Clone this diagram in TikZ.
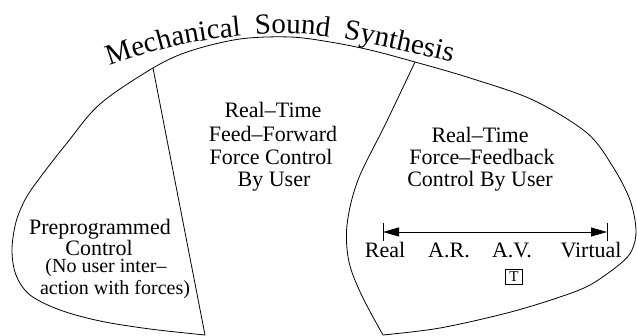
\documentclass[tikz,border=0pt]{standalone}
\usepackage{fontspec}
\setmainfont{Liberation Serif}
\usetikzlibrary{arrows.meta,decorations.text}
\begin{document}
\begin{tikzpicture}[x=1pt,y=-1pt, line width=0.8pt,
  lbl/.style={font=\fontsize{22}{22}\selectfont, anchor=base, inner sep=0pt},
  sml/.style={font=\fontsize{20}{20}\selectfont, anchor=base, inner sep=0pt},
  ahead/.style={Triangle[length=16pt,width=9pt]}]
\useasboundingbox (0,0) rectangle (637,336);
% outer outline
\draw plot[smooth, tension=0.55] coordinates {(205,335) (150,329) (100,321) (60,310) (30,295) (16,275) (12,250) (16,222) (26,198) (42,175) (67,143) (100,104) (153,68) (190,51) (240,39) (290,37) (330,42) (370,50) (415,62) (470,78) (533,100) (587,133) (613,167) (630,200) (636,230) (632,250) (620,264) (590,285) (557,298) (507,313) (440,328) (383,335)};
% left divider
\coordinate (d1t) at (153,68);
\coordinate (d1b) at (205,335);
\draw (d1t) -- (d1b);
% right blob left boundary
\draw plot[smooth, tension=0.55] coordinates {(415,62) (386,123) (358,180) (347,225) (349,262) (362,296) (383,335)};
% title
\path[decorate, decoration={text along path, text align=fit to path stretching spaces,
  text={|\fontsize{29}{29}\selectfont|Mechanical Sound Synthesis}}]
  plot[smooth, tension=0.6] coordinates {(110,66) (175,46) (242,36) (300,34) (360,42) (452,62)};
% middle block
\node[lbl] (m1) at (273,118) {Real–Time};
\node[lbl] (m2) at (273,142) {Feed–Forward};
\node[lbl] (m3) at (271,165) {Force Control};
\node[lbl] (m4) at (274,187) {By User};
% right block
\node[lbl] (r1) at (480,143) {Real–Time};
\node[lbl] (r2) at (482,165) {Force–Feedback};
\node[lbl] (r3) at (480,187) {Control By User};
% left block
\node[lbl] (l1) at (100,235) {Preprogrammed};
\node[lbl] (l2) at (99,256) {Control};
\node[sml] (l3) at (106,273) {(No user inter–};
\node[sml] (l4) at (115,295) {action with forces)};
% scale
\coordinate (aL) at (383,232);
\coordinate (aR) at (607,232);
\draw[{Triangle[length=16pt,width=9pt]}-{Triangle[length=16pt,width=9pt]}] (aL) -- (aR);
\draw (aL) ++(0,-9) -- ++(0,18);
\draw (aR) ++(0,-9) -- ++(0,18);
\node[lbl] (s1) at (385,258) {Real};
\node[lbl] (s2) at (449,258) {A.R.};
\node[lbl] (s3) at (512,258) {A.V.};
\node[lbl] (s4) at (591,258) {Virtual};
\node[draw, line width=0.6pt, minimum width=17pt, minimum height=15pt, inner sep=0pt,
  font=\fontsize{15}{15}\selectfont] (tbox) at (514,276.5) {T};
\end{tikzpicture}
\end{document}
